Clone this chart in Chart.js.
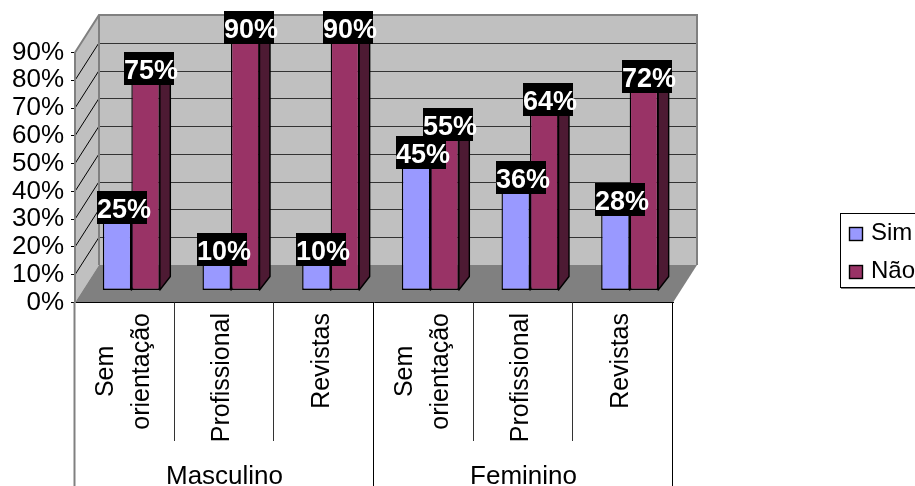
<!DOCTYPE html>
<html lang="pt">
<head>
<meta charset="utf-8">
<title>Sim / Não por orientação e sexo</title>
<style>
  html, body { margin: 0; padding: 0; background: #fff; }
  #wrap { position: relative; width: 915px; height: 486px; overflow: hidden; }
</style>
<script src="https://cdn.jsdelivr.net/npm/chart.js@4"></script>
</head>
<body>
<div id="wrap"><canvas id="chart" width="915" height="486"></canvas></div>
<script>
// Answers by source of guidance, grouped by sex (percent).
const categories = ['Sem orientação', 'Profissional', 'Revistas', 'Sem orientação', 'Profissional', 'Revistas'];
const categoryLines = [['Sem', 'orientação'], ['Profissional'], ['Revistas'], ['Sem', 'orientação'], ['Profissional'], ['Revistas']];
const groups = ['Masculino', 'Feminino'];
const simValues = [25, 10, 10, 45, 36, 28];
const naoValues = [75, 90, 90, 55, 64, 72];
const seriesNames = ['Sim', 'Não'];
const yTicks = [0, 10, 20, 30, 40, 50, 60, 70, 80, 90];

const FONT = '"Liberation Sans", Arial, sans-serif';

// Perspective offsets of the box the columns stand in.
const wallShift = { x: 24, y: -37.5 };     // front plane to back wall
const barPlane = { x: 6.5, y: -12 };       // front plane to column faces
const barDepth = { x: 10.5, y: -13.5 };    // thickness of a column
const labelShift = [5, 3.5];               // value plates sit toward the column depth

const colors = {
  wall: '#C0C0C0', floor: '#808080', edge: '#808080',
  sim: '#9999FF', nao: '#993366', simSide: '#4D4D80', naoSide: '#4D1A33',
  simTop: '#7A7ACC', naoTop: '#7A2952'
};

function poly(ctx, pts, fill, stroke, lw) {
  ctx.beginPath();
  pts.forEach((p, i) => i ? ctx.lineTo(p[0], p[1]) : ctx.moveTo(p[0], p[1]));
  ctx.closePath();
  if (fill) { ctx.fillStyle = fill; ctx.fill(); }
  if (stroke) { ctx.strokeStyle = stroke; ctx.lineWidth = lw || 1; ctx.lineJoin = 'round'; ctx.stroke(); }
}

function line(ctx, x1, y1, x2, y2, color, lw) {
  ctx.beginPath();
  ctx.moveTo(x1, y1);
  ctx.lineTo(x2, y2);
  ctx.strokeStyle = color;
  ctx.lineWidth = lw || 1;
  ctx.stroke();
}

// Walls, floor and the gridlines on them.
const boxPlugin = {
  id: 'box3d',
  beforeDraw(chart) {
    const { ctx, chartArea: a, scales: { y } } = chart;
    const sx = wallShift.x, sy = wallShift.y;
    ctx.save();
    poly(ctx, [[a.left, a.bottom], [a.left, a.top], [a.left + sx, a.top + sy], [a.left + sx, a.bottom + sy]], colors.wall);
    poly(ctx, [[a.left + sx, a.top + sy], [a.right + sx, a.top + sy], [a.right + sx, a.bottom + sy], [a.left + sx, a.bottom + sy]], colors.wall);
    poly(ctx, [[a.left, a.bottom], [a.left + sx, a.bottom + sy], [a.right + sx, a.bottom + sy], [a.right, a.bottom]], colors.floor);
    yTicks.forEach(v => {
      if (v === 0 || v === yTicks[yTicks.length - 1]) return;
      const py = y.getPixelForValue(v);
      line(ctx, a.left, py, a.left + sx, py + sy, '#000', 1);
      line(ctx, a.left + sx, Math.round(py + sy) + 0.5, a.right + sx, Math.round(py + sy) + 0.5, '#333', 1);
    });
    // Upper and side outline of the walls.
    ctx.lineJoin = 'miter';
    ctx.beginPath();
    ctx.moveTo(a.left, a.top);
    ctx.lineTo(a.left + sx, a.top + sy);
    ctx.lineTo(a.right + sx, a.top + sy);
    ctx.lineTo(a.right + sx, a.bottom + sy);
    ctx.strokeStyle = colors.edge;
    ctx.lineWidth = 2;
    ctx.stroke();
    line(ctx, a.left + sx, a.top + sy, a.left + sx, a.bottom + sy, colors.edge, 2);
    ctx.restore();
  },
  // Columns sit inside the box: shift them and add their side and top faces.
  beforeDatasetsDraw(chart) {
    const { ctx } = chart;
    ctx.save();
    ctx.translate(barPlane.x, barPlane.y);
    const dx = barDepth.x, dy = barDepth.y;
    [[0, colors.simSide, colors.simTop], [1, colors.naoSide, colors.naoTop]].forEach(([d, side, top]) => {
      chart.getDatasetMeta(d).data.forEach(bar => {
        const r = bar.x + bar.width / 2, l = bar.x - bar.width / 2;
        poly(ctx, [[r, bar.base], [r + dx, bar.base + dy], [r + dx, bar.y + dy], [r, bar.y]], side, '#000', 1.4);
        poly(ctx, [[l, bar.y], [l + dx, bar.y + dy], [r + dx, bar.y + dy], [r, bar.y]], top, '#000', 1.4);
      });
    });
  },
  afterDatasetsDraw(chart) {
    const { ctx } = chart;
    ctx.restore();
    // Value labels: white bold text on a black plate.
    ctx.save();
    ctx.font = 'bold 27px ' + FONT;
    ctx.textAlign = 'left';
    ctx.textBaseline = 'alphabetic';
    [0, 1].forEach(d => {
      const values = chart.data.datasets[d].data;
      chart.getDatasetMeta(d).data.forEach((bar, i) => {
        const cx = bar.x + barPlane.x + labelShift[d];
        const bottom = bar.y + barPlane.y + 3;
        const left = Math.round(cx - 25), top = Math.round(bottom - 33);
        ctx.fillStyle = '#000';
        ctx.fillRect(left, top, 50, 33);
        ctx.fillStyle = '#fff';
        ctx.fillText(values[i] + '%', left, top + 27);
      });
    });
    ctx.restore();
  },
  // Two-level category axis and the legend.
  afterDraw(chart) {
    const { ctx, chartArea: a, scales: { x } } = chart;
    const step = x.width / categories.length;
    ctx.save();
    for (let i = 0; i <= categories.length; i++) {
      const px = Math.round(x.left + i * step) - 0.5;
      const isGroupEdge = i % 3 === 0;
      if (i === 0) line(ctx, a.left - 0.5, a.bottom, a.left - 0.5, 486, colors.edge, 2);
      else line(ctx, px, a.bottom, px, isGroupEdge ? 486 : 441, isGroupEdge ? '#000' : '#333', 1);
    }
    ctx.fillStyle = '#000';
    ctx.textBaseline = 'middle';
    ctx.font = '25px ' + FONT;
    categoryLines.forEach((lines, i) => {
      const cx = x.getPixelForTick(i);
      if (lines.length === 1) {
        ctx.save();
        ctx.translate(cx - 2.5, 313);
        ctx.rotate(-Math.PI / 2);
        ctx.textAlign = 'right';
        ctx.fillText(lines[0], 0, 0);
        ctx.restore();
      } else {
        const width = Math.max(...lines.map(t => ctx.measureText(t).width));
        lines.forEach((t, k) => {
          ctx.save();
          ctx.translate(cx - 1 + (k - 0.5) * 36, 313 + width / 2);
          ctx.rotate(-Math.PI / 2);
          ctx.textAlign = 'center';
          ctx.fillText(t, 0, 0);
          ctx.restore();
        });
      }
    });
    ctx.font = '26px ' + FONT;
    ctx.textAlign = 'center';
    ctx.textBaseline = 'alphabetic';
    groups.forEach((g, i) => {
      ctx.fillText(g, x.left + (i * 3 + 1.5) * step, 483.5);
    });

    // Legend
    ctx.fillStyle = '#808080';
    ctx.fillRect(841, 288, 74, 1);
    ctx.strokeStyle = '#000';
    ctx.lineWidth = 1;
    ctx.strokeRect(840.5, 213.5, 90, 74);
    ctx.font = '24px ' + FONT;
    ctx.textAlign = 'left';
    const swatchTop = [227, 265], baseline = [240, 277.5];
    chart.data.datasets.forEach((ds, i) => {
      ctx.fillStyle = ds.backgroundColor;
      ctx.fillRect(849.5, swatchTop[i] + 0.5, 13, 13);
      ctx.strokeStyle = '#000';
      ctx.lineWidth = 1.4;
      ctx.strokeRect(849.5, swatchTop[i] + 0.5, 13, 13);
      ctx.fillStyle = '#000';
      ctx.fillText(ds.label, 871, baseline[i]);
    });
    ctx.restore();
  }
};

new Chart(document.getElementById('chart'), {
  type: 'bar',
  data: {
    labels: categories,
    datasets: [
      { label: seriesNames[0], data: simValues, backgroundColor: colors.sim },
      { label: seriesNames[1], data: naoValues, backgroundColor: colors.nao }
    ]
  },
  options: {
    responsive: false,
    animation: false,
    devicePixelRatio: 1,
    layout: { padding: { top: 52.5, right: 242, left: 0, bottom: 0 } },
    datasets: {
      bar: {
        categoryPercentage: 0.572,
        barPercentage: 1,
        borderColor: '#000',
        borderWidth: 1.4,
        borderSkipped: false,
        clip: false
      }
    },
    plugins: { legend: { display: false }, tooltip: { enabled: false } },
    scales: {
      x: {
        grid: { display: false, drawTicks: false },
        border: { display: true, color: '#000', width: 1 },
        ticks: { display: false },
        afterFit(scale) { scale.height = 183.5; }
      },
      y: {
        min: 0,
        max: 90,
        afterBuildTicks(scale) { scale.ticks = yTicks.map(v => ({ value: v })); },
        afterFit(scale) { scale.width = 75; },
        grid: { drawOnChartArea: false, drawTicks: true, tickLength: 4, tickColor: '#000', color: '#000' },
        border: { display: true, color: colors.edge, width: 2 },
        ticks: {
          autoSkip: false,
          padding: 7,
          color: '#000',
          font: { family: FONT, size: 26, lineHeight: 1 },
          callback: v => v + '%'
        }
      }
    }
  },
  plugins: [boxPlugin]
});
</script>
</body>
</html>
